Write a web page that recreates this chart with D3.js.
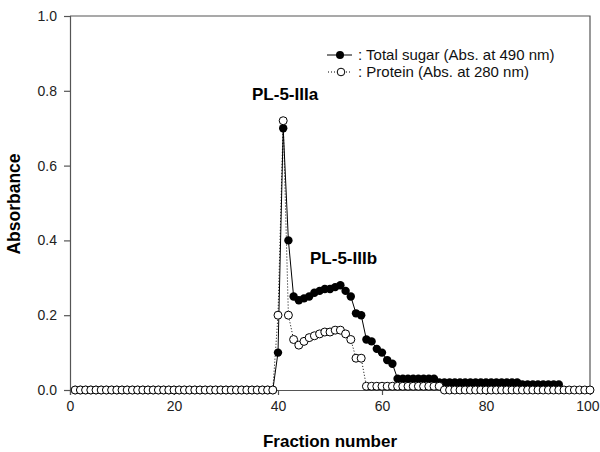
<!DOCTYPE html>
<html>
<head>
<meta charset="utf-8">
<script src="https://cdn.jsdelivr.net/npm/d3@7"></script>
<style>
  html, body { margin: 0; padding: 0; background: #fff; }
  svg { display: block; font-family: "Liberation Sans", Arial, sans-serif; }
</style>
</head>
<body>
<svg id="chart" width="600" height="452"></svg>
<script>
// ---- data ----
const sugarFractions = [
  1,2,3,4,5,6,7,8,9,10,11,12,13,14,15,16,17,18,19,20,
  21,22,23,24,25,26,27,28,29,30,31,32,33,34,35,36,37,38,39,40,
  41,42,43,44,45,46,47,48,49,50,51,52,53,54,55,56,57,58,59,60,
  61,62,63,64,65,66,67,68,69,70,71,72,73,74,75,76,77,78,79,80,
  81,82,83,84,85,86,87,88,89,90,91,92,93,94
];
const sugarValues = [
  0,0,0,0,0,0,0,0,0,0,0,0,0,0,0,0,0,0,0,0,
  0,0,0,0,0,0,0,0,0,0,0,0,0,0,0,0,0,0,0,0.10,
  0.70,0.40,0.25,0.24,0.245,0.25,0.26,0.265,0.27,0.27,0.275,0.28,0.265,0.25,0.205,0.20,0.135,0.13,0.11,0.10,
  0.08,0.07,0.03,0.03,0.03,0.03,0.03,0.03,0.03,0.03,0.02,0.02,0.02,0.02,0.02,0.02,0.02,0.02,0.02,0.02,
  0.02,0.02,0.02,0.02,0.02,0.02,0.015,0.015,0.015,0.015,0.015,0.015,0.015,0.015
];
const proteinFractions = [
  1,2,3,4,5,6,7,8,9,10,11,12,13,14,15,16,17,18,19,20,
  21,22,23,24,25,26,27,28,29,30,31,32,33,34,35,36,37,38,39,40,
  41,42,43,44,45,46,47,48,49,50,51,52,53,54,55,56,57,58,59,60,
  61,62,63,64,65,66,67,68,69,70,71,72,73,74,75,76,77,78,79,80,
  81,82,83,84,85,86,87,88,89,90,91,92,93,94,95,96,97,98,99,100
];
const proteinValues = [
  0,0,0,0,0,0,0,0,0,0,0,0,0,0,0,0,0,0,0,0,
  0,0,0,0,0,0,0,0,0,0,0,0,0,0,0,0,0,0,0,0.20,
  0.72,0.20,0.135,0.12,0.13,0.14,0.145,0.15,0.155,0.155,0.16,0.16,0.15,0.135,0.085,0.085,0.01,0.01,0.01,0.01,
  0.01,0.01,0.01,0.01,0.01,0.01,0.01,0.01,0.01,0.01,0.01,0,0,0,0,0,0,0,0,0,
  0,0,0,0,0,0,0,0,0,0,0,0,0,0,0,0,0,0,0,0
];
const xTicks = [0, 20, 40, 60, 80, 100];
const yTicks = [0.0, 0.2, 0.4, 0.6, 0.8, 1.0];
const seriesNames = [": Total sugar (Abs. at 490 nm)", ": Protein (Abs. at 280 nm)"];
const peakLabels = ["PL-5-IIIa", "PL-5-IIIb"];
const xTitle = "Fraction number";
const yTitle = "Absorbance";

// ---- drawing ----
const svg = d3.select("#chart");
const x = d3.scaleLinear().domain([0, 100]).range([70, 590]);
const y = d3.scaleLinear().domain([0, 1]).range([390, 16]);
const axisColor = "#555";

// frame (top and right)
svg.append("path")
  .attr("d", `M${x(0)},${y(1)}H${x(100)}V${y(0)}`)
  .attr("fill", "none").attr("stroke", axisColor).attr("stroke-width", 1.2);

const xAxis = svg.append("g").attr("transform", `translate(0,${y(0)})`)
  .call(d3.axisBottom(x).tickValues(xTicks).tickFormat(d3.format("d")).tickSize(5).tickPadding(6));
const yAxis = svg.append("g").attr("transform", `translate(${x(0)},0)`)
  .call(d3.axisLeft(y).tickValues(yTicks).tickFormat(d3.format(".1f")).tickSize(6).tickPadding(7));
[xAxis, yAxis].forEach(a => {
  a.select(".domain").attr("stroke", axisColor).attr("stroke-width", 1.2);
  a.selectAll(".tick line").attr("stroke", axisColor).attr("stroke-width", 1.2);
  a.selectAll(".tick text").attr("fill", "#222").style("font-size", "14px")
    .style("font-family", "'Liberation Sans', Arial, sans-serif");
});
// keep the last x label inside the picture (as in the reference)
xAxis.selectAll(".tick text").filter(d => d === 100)
  .attr("text-anchor", "end").attr("dx", "9");

// axis titles
svg.append("text").attr("x", (x(0) + x(100)) / 2).attr("y", 447)
  .attr("text-anchor", "middle").style("font-size", "17px").style("font-weight", "bold")
  .text(xTitle);
svg.append("text").attr("transform", `translate(20,${(y(0) + y(1)) / 2 + 1}) rotate(-90)`)
  .attr("text-anchor", "middle").style("font-size", "17.5px").style("font-weight", "bold")
  .text(yTitle);

const sugar = sugarFractions.map((f, i) => ({ f, v: sugarValues[i] }));
const protein = proteinFractions.map((f, i) => ({ f, v: proteinValues[i] }));
const line = d3.line().x(d => x(d.f)).y(d => y(d.v));

svg.append("path").datum(sugar).attr("d", line)
  .attr("fill", "none").attr("stroke", "#000").attr("stroke-width", 1);
svg.append("path").datum(protein).attr("d", line)
  .attr("fill", "none").attr("stroke", "#000").attr("stroke-width", 1)
  .attr("stroke-dasharray", "1,2");

svg.append("g").selectAll("circle").data(sugar).join("circle")
  .attr("cx", d => x(d.f)).attr("cy", d => y(d.v)).attr("r", 4.2)
  .attr("fill", "#000");
svg.append("g").selectAll("circle").data(protein).join("circle")
  .attr("cx", d => x(d.f)).attr("cy", d => y(d.v)).attr("r", 4)
  .attr("fill", "#fff").attr("stroke", "#000").attr("stroke-width", 1);

// peak labels
svg.append("text").attr("x", 252).attr("y", 100).style("font-size", "17px")
  .style("font-weight", "bold").text(peakLabels[0]);
svg.append("text").attr("x", 310).attr("y", 264).style("font-size", "17px")
  .style("font-weight", "bold").text(peakLabels[1]);

// legend
const lg = svg.append("g");
lg.append("line").attr("x1", 327).attr("x2", 352).attr("y1", 55).attr("y2", 55)
  .attr("stroke", "#000").attr("stroke-width", 1);
lg.append("circle").attr("cx", 340).attr("cy", 55).attr("r", 4).attr("fill", "#000");
lg.append("text").attr("x", 358).attr("y", 60).style("font-size", "15px").attr("fill", "#111")
  .text(seriesNames[0]);
lg.append("line").attr("x1", 328).attr("x2", 352).attr("y1", 72).attr("y2", 72)
  .attr("stroke", "#000").attr("stroke-width", 1).attr("stroke-dasharray", "1,2");
lg.append("circle").attr("cx", 341).attr("cy", 72).attr("r", 3.8)
  .attr("fill", "#fff").attr("stroke", "#000").attr("stroke-width", 1);
lg.append("text").attr("x", 358).attr("y", 77).style("font-size", "15px").attr("fill", "#111")
  .text(seriesNames[1]);
</script>
</body>
</html>
